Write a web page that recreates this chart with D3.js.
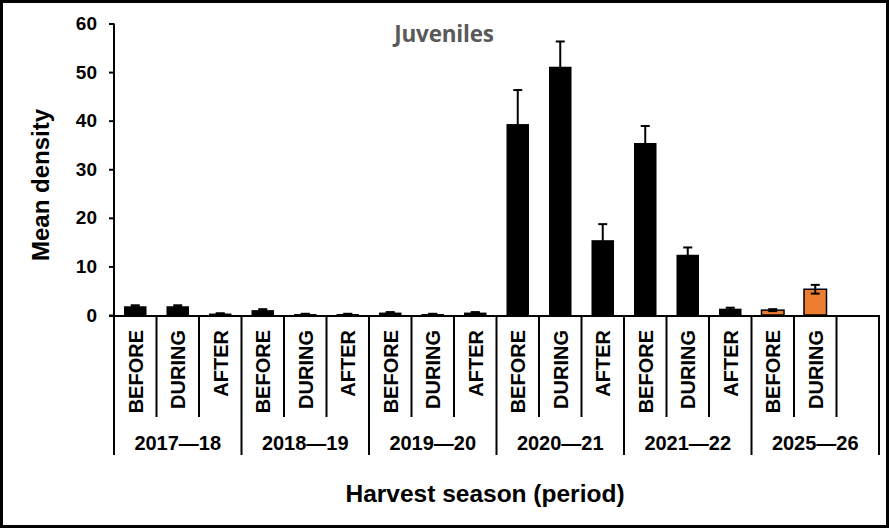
<!DOCTYPE html>
<html><head><meta charset="utf-8">
<script src="https://cdn.jsdelivr.net/npm/d3@7"></script>
<style>body{margin:0;background:#fff}svg{display:block}</style>
</head><body>
<svg id="c" width="889" height="528"></svg>
<script>
const seasons = ["2017\u201418","2018\u201419","2019\u201420","2020\u201421","2021\u201422","2025\u201426"];
const periods = ["BEFORE","DURING","AFTER"];
const means  = [1.8,1.8,0.3, 1.0,0.2,0.2, 0.5,0.2,0.5, 39.3,51.1,15.4, 35.4,12.4,1.3, 1.0,5.3,null];
const errors = [0.2,0.2,0.05, 0.2,0.05,0.05, 0.1,0.05,0.1, 7.0,5.2,3.3, 3.5,1.5,0.2, 0.2,0.9,null];
const yTicks = [0,10,20,30,40,50,60];
const seasonColors = ["#000","#000","#000","#000","#000","#ED7D31"];

(function(){
const svg = d3.select("#c");
const W=889,H=528;
const pLeft=114,pRight=879,pTop=23.5,pBottom=315;
const FONT="'Liberation Sans',Arial,sans-serif";

const rows=[];
seasons.forEach((s,si)=>periods.forEach((p,pi)=>{
  const i=si*3+pi;
  rows.push({key:i,season:s,si,period:p,pi,mean:means[i],err:errors[i],color:seasonColors[si]});
}));
const x=d3.scaleBand().domain(rows.map(r=>r.key)).range([pLeft,pRight]).paddingInner(0.47).paddingOuter(0.235);
const xs=d3.scaleBand().domain(rows.map(r=>r.key)).range([pLeft,pRight]);
const y=d3.scaleLinear().domain([0,60]).range([pBottom,pTop]);

svg.append("rect").attr("x",1.5).attr("y",1.5).attr("width",W-3).attr("height",H-3)
  .attr("fill","none").attr("stroke","#000").attr("stroke-width",3);

svg.append("text").attr("x",444).attr("y",42).attr("text-anchor","middle")
  .attr("font-family","'Open Sans',sans-serif").attr("font-weight","bold").attr("font-size",22.5)
  .attr("fill","#595959").attr("letter-spacing",-0.2).text("Juveniles");

const ya=svg.append("g").attr("transform",`translate(${pLeft},0)`)
  .call(d3.axisLeft(y).tickValues(yTicks).tickSize(5).tickPadding(12));
ya.select(".domain").attr("stroke","#000").attr("stroke-width",2).attr("d",`M0,${pTop}V${pBottom+2}`);
ya.selectAll(".tick line").attr("stroke","#000").attr("stroke-width",2);
ya.selectAll(".tick text").attr("font-family",FONT).attr("font-weight","bold").attr("font-size",19).attr("fill","#000");

const data=rows.filter(r=>r.mean!=null);
svg.append("g").selectAll("rect").data(data).join("rect")
  .attr("x",d=>x(d.key)).attr("width",x.bandwidth())
  .attr("y",d=>y(d.mean)).attr("height",d=>y(0)-y(d.mean))
  .attr("fill",d=>d.color).attr("stroke","#000").attr("stroke-width",d=>d.si===5?1.5:0);

const eb=svg.append("g").attr("stroke","#000").attr("stroke-width",2);
data.forEach(d=>{
  const cx=x(d.key)+x.bandwidth()/2;
  const hi=y(d.mean+d.err), lo=y(Math.max(0,d.mean-d.err));
  eb.append("line").attr("x1",cx).attr("x2",cx).attr("y1",hi).attr("y2",lo);
  eb.append("line").attr("x1",cx-4.5).attr("x2",cx+4.5).attr("y1",hi).attr("y2",hi);
  eb.append("line").attr("x1",cx-4.5).attr("x2",cx+4.5).attr("y1",lo).attr("y2",lo);
});

svg.append("line").attr("x1",pLeft-5).attr("x2",pRight+1).attr("y1",pBottom+1).attr("y2",pBottom+1)
  .attr("stroke","#000").attr("stroke-width",2);

const sep=svg.append("g").attr("stroke","#000").attr("stroke-width",2);
for(let i=0;i<=rows.length;i++){
  const xx = i<rows.length ? xs(rows[i].key) : pRight;
  const long = (i%3===0);
  sep.append("line").attr("x1",xx).attr("x2",xx).attr("y1",pBottom+1).attr("y2",long?455:417);
}

svg.append("g").selectAll("text").data(rows).join("text")
  .attr("transform",d=>`translate(${xs(d.key)+xs.bandwidth()/2+7.5},330) rotate(-90)`)
  .attr("text-anchor","end").attr("font-family",FONT).attr("font-weight","bold").attr("font-size",20)
  .text(d=>d.si===5&&d.pi===2?"":d.period);

svg.append("g").selectAll("text").data(seasons).join("text")
  .attr("x",(d,i)=>xs(i*3)+xs.bandwidth()*1.5).attr("y",450)
  .attr("text-anchor","middle").attr("font-family",FONT).attr("font-weight","bold").attr("font-size",20)
  .text(d=>d);

svg.append("text").attr("transform","translate(49,185) rotate(-90)").attr("text-anchor","middle")
  .attr("font-family",FONT).attr("font-weight","bold").attr("font-size",24).text("Mean density");
svg.append("text").attr("x",485).attr("y",502).attr("text-anchor","middle")
  .attr("font-family",FONT).attr("font-weight","bold").attr("font-size",24.5).text("Harvest season (period)");
})();
</script>
</body></html>
